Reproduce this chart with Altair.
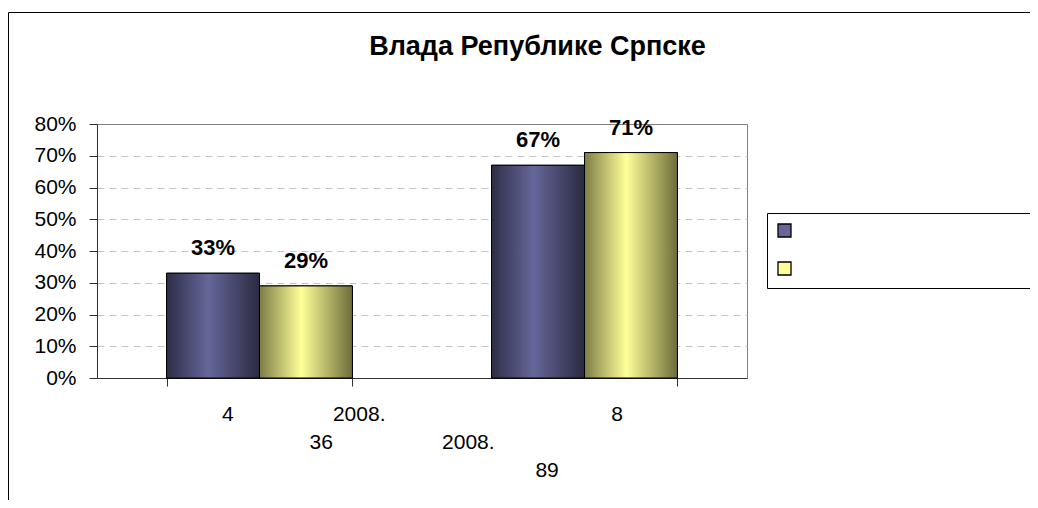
import json
import altair as alt
import pandas as pd

# ---------------- data ----------------
title_text = "Влада Републике Српске"
groups = ["g1", "g2"]
series = ["s1", "s2"]
values_s1 = [0.33, 0.67]
values_s2 = [0.29, 0.71]
# x-axis label words, per group, per line
group_label_lines = [
    [["4", "2008."], ["36"]],
    [["8"], ["2008."], ["89"]],
]
y_ticks = [0, 0.1, 0.2, 0.3, 0.4, 0.5, 0.6, 0.7, 0.8]

# ---------------- layout / style ----------------
NB = "\u00a0"
ZW = "\u200b"  # zero-width bookend so Vega's trim() keeps the padding
# number of no-break spaces before each word (space = half a digit in Arial metrics)
label_indent = [
    [[21, 17], [36]],
    [[32], [3], [19]],
]
LINE_UNITS = 55  # every label line padded to the same width so centring acts like a shifted left-align
FONT = "Liberation Sans"
W, H = 650, 254
PAD = {"left": 89, "top": 116, "right": 283, "bottom": 122}


def units(s):
    # width in "space" units for digits (2), '.' and spaces (1)
    return sum(2 if ch.isdigit() else (0 if ch == ZW else 1) for ch in s)


rows = []
for gi, g in enumerate(groups):
    rows.append({"group": g, "series": series[0], "value": values_s1[gi]})
    rows.append({"group": g, "series": series[1], "value": values_s2[gi]})
df = pd.DataFrame(rows)

label_map = {}
for gi, g in enumerate(groups):
    lines = []
    for li, words in enumerate(group_label_lines[gi]):
        s = ""
        for wi, w in enumerate(words):
            s += NB * label_indent[gi][li][wi] + w
        s += NB * max(0, LINE_UNITS - units(s))
        lines.append(ZW + s + ZW)
    label_map[g] = lines
expr = "''"
for g in reversed(groups):
    expr = f"datum.value == {json.dumps(g)} ? {json.dumps(label_map[g], ensure_ascii=False)} : {expr}"

grad1 = alt.LinearGradient(
    gradient="linear", x1=0, x2=1, y1=0, y2=0,
    stops=[
        alt.GradientStop(offset=0, color="#2e2e48"),
        alt.GradientStop(offset=0.45, color="#66669a"),
        alt.GradientStop(offset=1, color="#2a2a40"),
    ],
)
grad2 = alt.LinearGradient(
    gradient="linear", x1=0, x2=1, y1=0, y2=0,
    stops=[
        alt.GradientStop(offset=0, color="#7d7d46"),
        alt.GradientStop(offset=0.45, color="#ffff99"),
        alt.GradientStop(offset=1, color="#6c6c3a"),
    ],
)

x_enc = alt.X(
    "group:N",
    sort=groups,
    title=None,
    scale=alt.Scale(paddingInner=0.428, paddingOuter=0.214),
    axis=alt.Axis(
        labelExpr=expr,
        labelAngle=0,
        labelAlign="center",
        labelBaseline="top",
        labelLineHeight=28,
        labelFontSize=21,
        labelFont=FONT,
        labelColor="#000000",
        labelPadding=17,
        labelLimit=1000,
        tickBand="extent",
        tickSize=8,
        tickColor="#333333",
        domainColor="#333333",
        labelOverlap=False,
    ),
)
xoff_enc = alt.XOffset(
    "series:N", sort=series,
    scale=alt.Scale(domain=series, paddingInner=0, paddingOuter=0),
)
y_enc = alt.Y(
    "value:Q",
    title=None,
    scale=alt.Scale(domain=[0, 0.8], nice=False),
    axis=alt.Axis(
        values=y_ticks,
        format=".0%",
        labelFontSize=21,
        labelFont=FONT,
        labelColor="#000000",
        labelPadding=13,
        tickSize=8,
        tickColor="#333333",
        domainColor="#333333",
        grid=True,
        gridColor={"condition": {"test": "datum.value >= 0.79 || datum.value <= 0.01",
                                 "value": "transparent"},
                   "value": "#c4c4c4"},
        gridDash=[7, 5],
    ),
)

base = alt.Chart(df)

frame = alt.Chart(pd.DataFrame({"a": [0]})).mark_rect(
    fillOpacity=0, stroke="#000000", strokeWidth=1
).encode(
    x=alt.value(-88.5), x2=alt.value(1000),
    y=alt.value(-111.5), y2=alt.value(600),
)

legend_label = "'" + ZW + NB * 70 + ZW + "'"
bars_legend = base.mark_bar(stroke="#000000", strokeWidth=1).encode(
    x=x_enc, xOffset=xoff_enc, y=y_enc,
    color=alt.Color(
        "series:N",
        scale=alt.Scale(domain=series, range=["#666699", "#ffff99"]),
        legend=alt.Legend(
            title=None,
            orient="none",
            legendX=670,
            legendY=89,
            symbolType="square",
            symbolSize=169,
            symbolStrokeColor="#000000",
            symbolStrokeWidth=1.3,
            labelExpr=legend_label,
            labelFontSize=14,
            labelLimit=1000,
            rowPadding=19,
            padding=10,
            strokeColor="#000000",
            fillColor="#ffffff",
        ),
    ),
)

bars_g1 = base.mark_bar(fill=grad1, stroke="#000000", strokeWidth=1).encode(
    x=x_enc, xOffset=xoff_enc, y=y_enc
).transform_filter(alt.datum.series == series[0])
bars_g2 = base.mark_bar(fill=grad2, stroke="#000000", strokeWidth=1).encode(
    x=x_enc, xOffset=xoff_enc, y=y_enc
).transform_filter(alt.datum.series == series[1])

labels = base.mark_text(
    dy=-18, baseline="alphabetic", fontSize=22, fontWeight="bold", font=FONT, color="#000000"
).encode(
    x=x_enc, xOffset=xoff_enc, y=y_enc,
    text=alt.Text("value:Q", format=".0%"),
)

chart = alt.layer(frame, bars_legend, bars_g1, bars_g2, labels).properties(
    width=W,
    height=H,
    autosize=alt.AutoSizeParams(type="none"),
    padding=PAD,
    title=alt.TitleParams(
        title_text,
        fontSize=27,
        fontWeight="bold",
        font=FONT,
        color="#000000",
        anchor="middle",
        baseline="alphabetic",
        dx=115.5,
        offset=-70,
    ),
).configure_view(
    stroke="#808080", strokeWidth=1
)

chart.save("out.html", embed_options={"renderer": "svg", "actions": False})
